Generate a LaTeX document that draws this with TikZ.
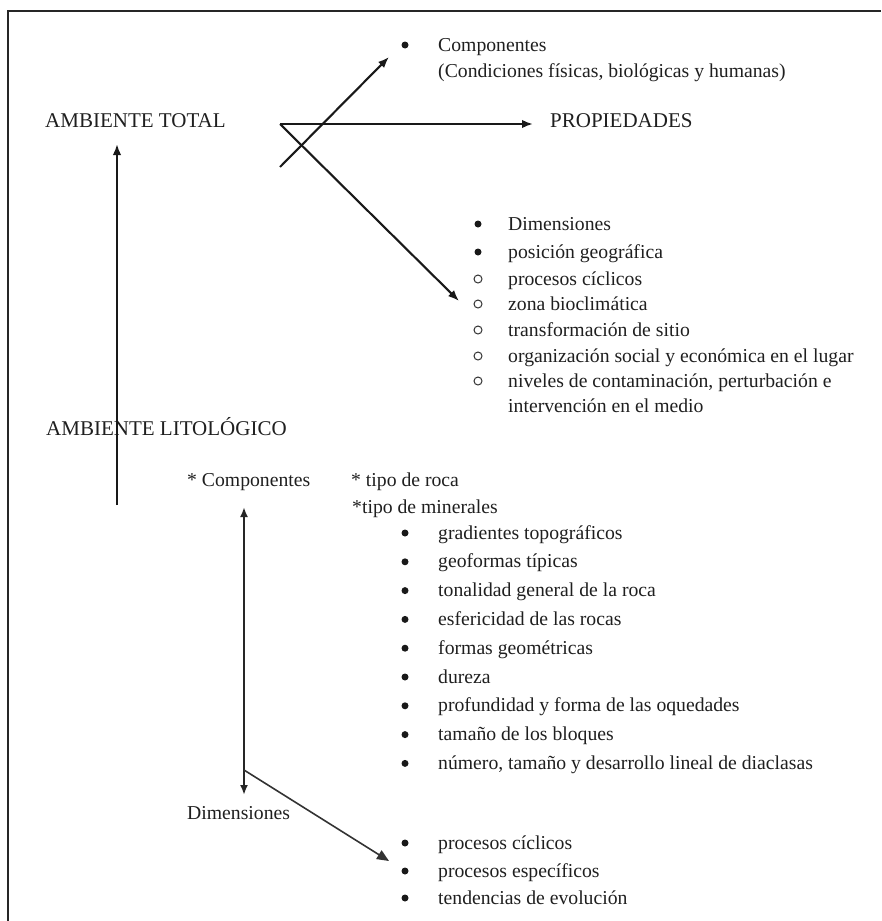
\documentclass[tikz,border=0pt]{standalone}
\usepackage{fontspec}
\setmainfont{Liberation Serif}
\usetikzlibrary{arrows.meta}
\begin{document}
\begin{tikzpicture}[x=1pt,y=-1pt,
  txt/.style={anchor=base west,inner sep=0pt,text=black!88,font=\fontsize{19.7}{22}\selectfont},
  captxt/.style={txt,font=\fontsize{21}{24}\selectfont},
  dot/.style={circle,fill=black!90,inner sep=0pt,minimum size=7pt},
  odot/.style={circle,draw=black!80,line width=1pt,inner sep=0pt,minimum size=8pt},
  arr/.style={line width=2.1pt,black!90,-{Latex[length=11pt,width=8.5pt]}},
  darr/.style={line width=2pt,black!85,{Latex[length=10pt,width=8pt]}-{Latex[length=10pt,width=8pt]}},
  thinarr/.style={line width=1.6pt,black!80,-{Triangle[length=12pt,width=10pt]}},
  frame/.style={line width=2.8pt,black!85}]
\useasboundingbox (0,0) rectangle (881,921);
% frame
\coordinate (fb) at (8,921);
\coordinate (ftl) at (8,11);
\coordinate (fr) at (881,11);
\draw[frame] (fb) -- (ftl) -- (fr);

% top part
\node[captxt] (at) at (45,127) {AMBIENTE TOTAL};
\node[captxt] (prop) at (550,127) {PROPIEDADES};
\node[dot] (bc) at (405,45) {};
\node[txt] (comp) at (438,51) {Componentes};
\node[txt] (cond) at (438,77) {(Condiciones físicas, biológicas y humanas)};

% properties list
\node[dot]  (b1) at (478,224) {};
\node[dot]  (b2) at (478,252) {};
\node[odot] (b3) at (478,279) {};
\node[odot] (b4) at (478,304) {};
\node[odot] (b5) at (478,330) {};
\node[odot] (b6) at (478,356) {};
\node[odot] (b7) at (478,381) {};
\node[txt] (l1) at (508,230) {Dimensiones};
\node[txt] (l2) at (508,258) {posición geográfica};
\node[txt] (l3) at (508,285) {procesos cíclicos};
\node[txt] (l4) at (508,310) {zona bioclimática};
\node[txt] (l5) at (508,336) {transformación de sitio};
\node[txt] (l6) at (508,362) {organización social y económica en el lugar};
\node[txt] (l7) at (508,387) {niveles de contaminación, perturbación e};
\node[txt] (l8) at (508,412) {intervención en el medio};

% arrows from AMBIENTE TOTAL
\coordinate (o1) at (280,124);
\coordinate (p1) at (533,124);
\coordinate (s2) at (280,167);
\coordinate (t2) at (389,57);
\coordinate (t3) at (459,301);
\draw[arr] (o1) -- (p1);
\draw[arr] (s2) -- (t2);
\draw[arr] (o1) -- (t3);

% lithological part
\node[captxt] (al) at (46,435) {AMBIENTE LITOLÓGICO};
\coordinate (s4) at (117,505);
\coordinate (t4) at (117,144);
\draw[arr] (s4) -- (t4);

\node[txt] (lc) at (187,486) {* Componentes};
\node[txt] (tr) at (351,486) {* tipo de roca};
\node[txt] (tm) at (352,513) {*tipo de minerales};

\foreach \i/\t in {0/gradientes topográficos,1/geoformas típicas,2/tonalidad general de la roca,3/esfericidad de las rocas,4/formas geométricas,5/dureza,6/profundidad y forma de las oquedades,7/tamaño de los bloques,8/número{,} tamaño y desarrollo lineal de diaclasas}{
  \node[dot] (cb\i) at (405,533+28.8*\i) {};
  \node[txt] (ct\i) at (438,539+28.8*\i) {\t};
}

\coordinate (t5a) at (244,507);
\coordinate (t5b) at (244,795);
\draw[darr] (t5a) -- (t5b);
\coordinate (s6) at (244,770);
\coordinate (t6) at (389,861);
\draw[thinarr] (s6) -- (t6);

\node[txt] (dim) at (187,819) {Dimensiones};
\node[dot] (db1) at (405,843) {};
\node[dot] (db2) at (405,871) {};
\node[dot] (db3) at (405,898) {};
\node[txt] (d1) at (438,849) {procesos cíclicos};
\node[txt] (d2) at (438,877) {procesos específicos};
\node[txt] (d3) at (438,904) {tendencias de evolución};
\end{tikzpicture}
\end{document}
